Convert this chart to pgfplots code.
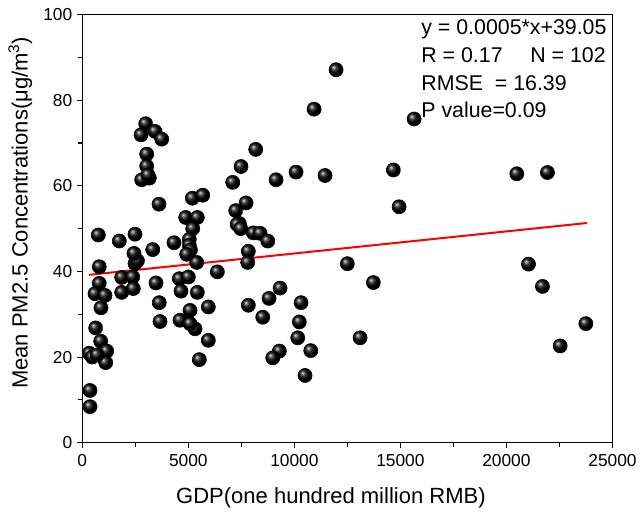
\documentclass[border=0pt]{standalone}
\usepackage{pgfplots}
\pgfplotsset{compat=1.18}
\usepackage{fontspec}
\setmainfont{Liberation Sans}
\begin{document}
\begin{tikzpicture}
\begin{axis}[
  scale only axis, width=397.5pt, height=321pt,
  xmin=0, xmax=25000, ymin=0, ymax=100,
  xtick={0,5000,...,25000}, ytick={0,20,...,100},
  minor xtick={2500,7500,...,22500}, minor ytick={10,30,...,90},
  scaled x ticks=false,
  /pgf/number format/assume math mode=true,
  /pgf/number format/1000 sep={},
  tick pos=left, tick align=outside,
  major tick length=4pt, minor tick length=3pt,
  every tick/.style={black, line width=0.8pt},
  axis line style={line width=0.9pt},
  tick label style={font=\fontsize{13}{15}\selectfont},
  xticklabel style={yshift=-1pt},
  every axis x label/.style={at={(axis description cs:0.469,0)}, yshift=-41pt, anchor=center, font=\fontsize{16.5}{19}\selectfont},
  every axis y label/.style={at={(axis description cs:0,0.537)}, xshift=-46.5pt, rotate=90, anchor=center, font=\fontsize{16.5}{19}\selectfont},
  xlabel={GDP(one hundred million RMB)},
  ylabel={Mean PM2.5 Concentrations(μg/m\textsuperscript{3})},
  clip=false,
]
\addplot[only marks, mark=ball, mark size=5.3pt, ball color=black] coordinates {
(802,41.1) (802,37.2) (600,34.8) (1071,34.4) (882,31.5) (632,26.8) (868,23.7)
(330,20.9) (472,20.0) (1151,21.4) (1104,18.7) (363,12.2) (363,8.4) (700,20.5)
(1858,38.6) (2377,38.7) (1858,35.1) (2406,36.0) (3476,37.3) (3632,32.7) (3665,28.3)
(4576,38.3) (5000,38.7) (4655,35.4) (5424,35.1) (5080,30.9) (4608,28.6) (5316,26.6)
(5080,27.8) (5519,19.4) (2486,41.8) (2600,42.5) (5394,42.1) (5943,31.7) (5943,23.9)
(2990,74.5) (2769,71.9) (3429,72.7) (3745,70.9) (3037,67.4) (3037,64.6) (3160,61.8)
(2802,61.4) (3100,62.5) (3618,55.7) (5189,57.1) (5679,57.8) (4877,52.6) (5424,52.6)
(5207,50.0) (5047,47.5) (5047,46.1) (5100,45.0) (4923,44.0) (755,48.5) (1745,47.1)
(2486,48.7) (2439,44.2) (3321,45.1) (4325,46.7)
(8178,68.5) (7486,64.5) (7093,60.8) (9137,61.4) (10080,63.2) (11448,62.4)
(7722,56.0) (7236,54.2) (7406,51.2) (7300,51.0) (7472,50.0) (8066,49.0) (8382,48.9)
(8745,47.1) (7830,44.7) (7802,42.1) (6368,39.9) (9326,36.1) (8807,33.7) (10316,32.7)
(7830,32.1) (8509,29.3) (10236,28.2) (10160,24.5) (10773,21.5) (9293,21.4) (8981,19.8)
(10505,15.7) (12500,41.8) (13727,37.4) (13100,24.5) (11967,87.1) (10930,77.9)
(15647,75.6) (14670,63.7) (14939,55.1) (21040,41.7) (21700,36.5) (23745,27.8)
(22533,22.6) (20490,62.8) (21935,63.1)
};
\addplot[red, line width=1.5pt] coordinates {(316,39.2) (23790,51.3)};
\node[anchor=base west, font=\fontsize{16}{19}\selectfont, inner sep=0pt] at (axis cs:15977,95.3) {y = 0.0005*x+39.05};
\node[anchor=base west, font=\fontsize{16}{19}\selectfont, inner sep=0pt] at (axis cs:15977,88.8) {R = 0.17};
\node[anchor=base west, font=\fontsize{16}{19}\selectfont, inner sep=0pt] at (axis cs:21118,88.8) {N = 102};
\node[anchor=base west, font=\fontsize{16}{19}\selectfont, inner sep=0pt] at (axis cs:15977,82.3) {RMSE\ \ = 16.39};
\node[anchor=base west, font=\fontsize{16}{19}\selectfont, inner sep=0pt] at (axis cs:15977,76.0) {P value=0.09};
\end{axis}
\pgfresetboundingbox
\path ([shift={(-61.7pt,-52.5pt)}]current axis.south west) rectangle ([shift={(21.4pt,10.9pt)}]current axis.north east);
\end{tikzpicture}
\end{document}
